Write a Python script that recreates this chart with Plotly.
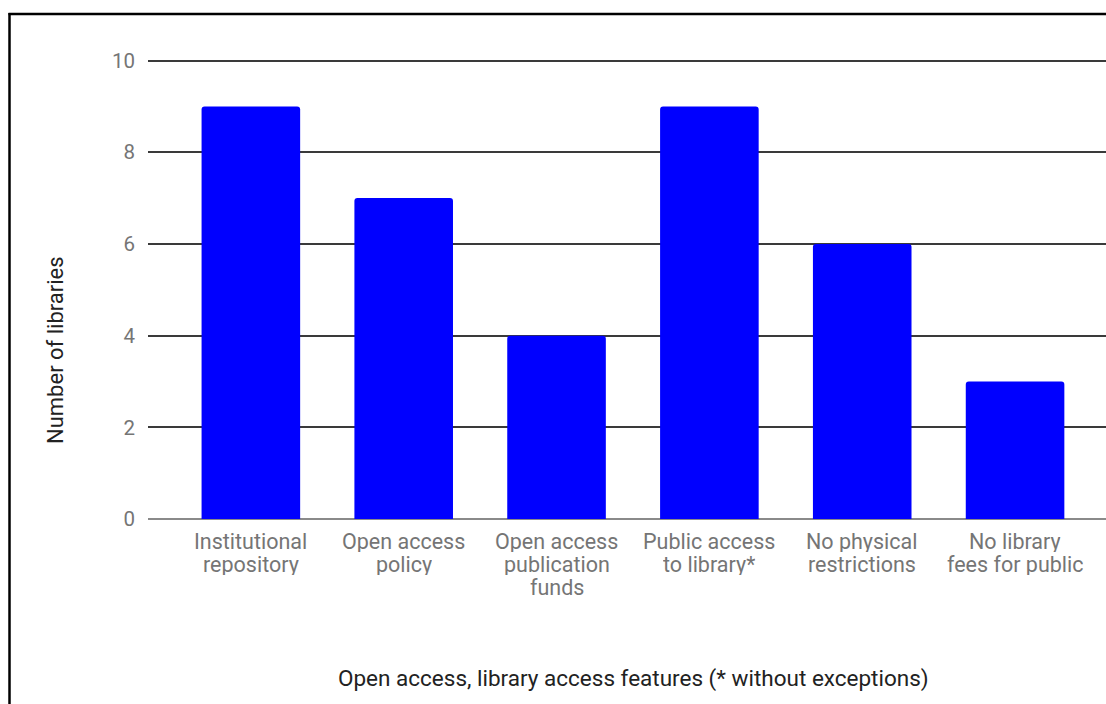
import plotly.graph_objects as go

categories = [
    "Institutional<br>repository",
    "Open access<br>policy",
    "Open access<br>publication<br>funds",
    "Public access<br>to library*",
    "No physical<br>restrictions",
    "No library<br>fees for public",
]
libraries = [9, 7, 4, 9, 6, 3]
y_ticks = [0, 2, 4, 6, 8, 10]

W, H = 1106, 704
L, R, T, B = 148, 0, 56, 185

fig = go.Figure(
    go.Bar(
        x=list(range(len(categories))),
        y=libraries,
        marker=dict(color="#0000ff", line=dict(width=0)),
        width=0.645,
        hovertext=[c.replace("<br>", " ") for c in categories],
    )
)

fig.update_layout(
    width=W,
    height=H,
    margin=dict(l=L, r=R, t=T, b=B, pad=0),
    paper_bgcolor="white",
    plot_bgcolor="white",
    barcornerradius=3,
    showlegend=False,
    font=dict(family="Roboto, sans-serif", color="#757575", size=21),
)

fig.update_xaxes(
    range=[-0.673, 5.595],
    showgrid=False,
    showline=False,
    zeroline=False,
    ticks="",
    showticklabels=False,
)

fig.update_yaxes(
    range=[0, 10.1],
    tickvals=y_ticks,
    showgrid=True,
    gridcolor="#3a3a3a",
    gridwidth=1.5,
    zeroline=True,
    zerolinecolor="#8a8a8a",
    zerolinewidth=2,
    showline=False,
    ticks="",
    ticklabelstandoff=12,
    tickfont=dict(size=20.5, color="#757575"),
)


def px_x(p):
    return (p - L) / (W - L - R)


def px_y(p):
    return (H - B - p) / (H - T - B)


# category labels, one text line at a time for tight line spacing
for i, cat in enumerate(categories):
    for j, line in enumerate(cat.split("<br>")):
        fig.add_annotation(
            text=line, x=i, xref="x",
            y=px_y(541 + 23 * j), yref="paper",
            showarrow=False, xanchor="center", yanchor="middle",
            height=22, valign="middle", borderpad=0,
            font=dict(size=21.5, color="#757575"),
        )

# axis titles
fig.add_annotation(
    text="Number of libraries",
    xref="paper", yref="paper",
    x=px_x(55), y=px_y(350),
    textangle=-90, showarrow=False,
    font=dict(size=22, color="#222222"),
    xanchor="center", yanchor="middle",
)
fig.add_annotation(
    text="Open access, library access features (* without exceptions)",
    xref="paper", yref="paper",
    x=px_x(633), y=px_y(678),
    showarrow=False,
    font=dict(size=22.5, color="#222222"),
    xanchor="center", yanchor="middle",
)

# frame lines along the top and left edges
fig.add_shape(type="line", xref="paper", yref="paper",
              x0=px_x(8.5), x1=px_x(W + 5), y0=px_y(14), y1=px_y(14),
              line=dict(color="black", width=2.5))
fig.add_shape(type="line", xref="paper", yref="paper",
              x0=px_x(9.5), x1=px_x(9.5), y0=px_y(13), y1=px_y(H + 5),
              line=dict(color="black", width=2.5))

fig.write_html("out.html")
